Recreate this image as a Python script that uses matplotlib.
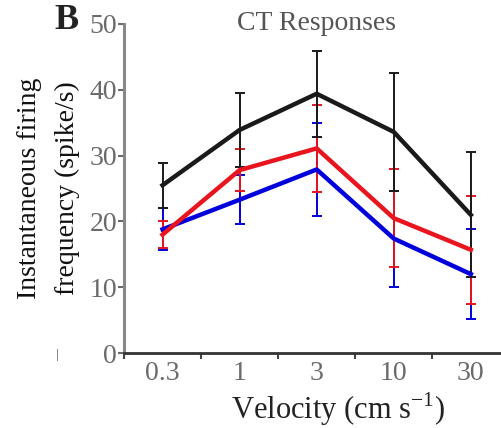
import matplotlib
matplotlib.use("Agg")
import matplotlib.pyplot as plt
import numpy as np

plt.rcParams['font.family'] = ['Liberation Serif', 'DejaVu Serif']
plt.rcParams['mathtext.fontset'] = 'custom'
plt.rcParams['mathtext.rm'] = 'Liberation Serif'

categories = ["0.3", "1", "3", "10", "30"]
black_mean = [25.5, 33.9, 39.4, 33.6, 21.0]
black_err = [3.4, 5.6, 6.5, 9.0, 9.5]
red_mean = [18.0, 27.8, 31.1, 20.5, 15.7]
red_err = [2.1, 3.2, 6.6, 7.4, 8.2]
blue_mean = [18.8, 23.3, 27.9, 17.4, 12.0]
blue_err = [3.2, 3.7, 7.0, 7.3, 6.8]
yticks = [0, 10, 20, 30, 40, 50]

fig = plt.figure(figsize=(5.02, 4.28), dpi=100)
ax = fig.add_axes([0.247, 0.175, 0.76, 0.769])

x = np.arange(len(categories))
gray = '#6a6a6a'
for mean, err, col in [(blue_mean, blue_err, '#0000dd'),
                       (red_mean, red_err, '#e8141e'),
                       (black_mean, black_err, '#1a1a1a')]:
    ax.errorbar(x, mean, yerr=err, color=col, lw=3.2, elinewidth=1.4,
                capsize=3.5, capthick=1.4, ecolor=col)

ax.set_xlim(-0.5, 4.45)
ax.set_ylim(0, 50)
ax.set_yticks(yticks)
ax.set_yticklabels([str(v) for v in yticks])
ax.set_xticks(x)
ax.set_xticklabels(categories)
ax.set_xticks(np.arange(-0.5, 4.0, 1.0), minor=True)
ax.tick_params(axis='x', which='major', length=0, pad=6, labelsize=20, labelcolor=gray)
ax.tick_params(axis='x', which='minor', length=4, width=1.5, color='#444444', direction='out')
ax.tick_params(axis='y', length=4, width=1.5, color=gray, labelsize=20, labelcolor=gray, pad=1)

for s in ['top', 'right']:
    ax.spines[s].set_visible(False)
ax.spines['left'].set_color('#888888')
ax.spines['left'].set_linewidth(2.2)
ax.spines['bottom'].set_color('#333333')
ax.spines['bottom'].set_linewidth(2)

fig.text(0.63, 0.944, "CT Responses", fontsize=20, color='#555555', ha='center', va='center')
fig.text(0.673, 0.044, "Velocity (cm s$^{\\mathregular{-1}}$)", fontsize=22, color='#222222',
         ha='center', va='center')
ax.set_ylabel("Instantaneous firing\nfrequency (spike/s)", fontsize=20, color='#111111',
              linespacing=1.65, labelpad=7)
fig.text(0.133, 0.953, "B", fontsize=26, fontweight='bold', color='#222222', ha='center', va='center')
fig.text(0.114, 0.17, "|", fontsize=9, color='#444444', ha='center', va='center')

fig.savefig("out.png", dpi=100)
